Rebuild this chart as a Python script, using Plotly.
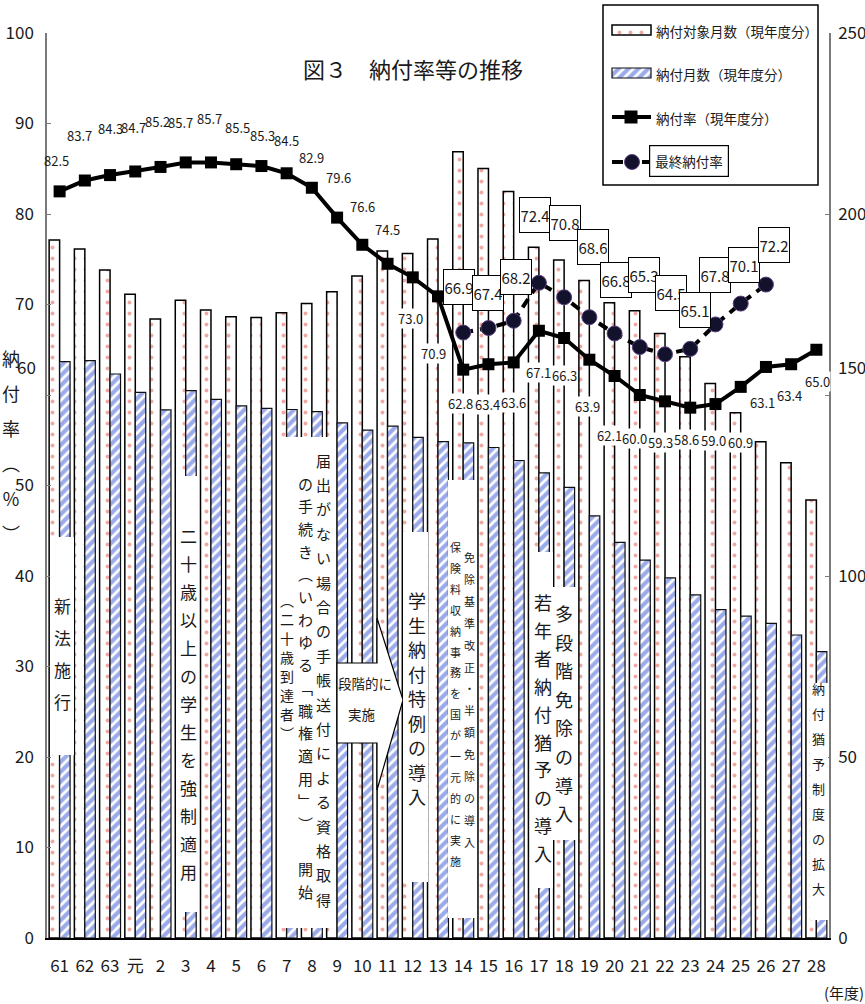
import plotly.graph_objects as go

# ---- data -------------------------------------------------------------
years = ["61", "62", "63", "元", "2", "3", "4", "5", "6", "7", "8", "9", "10",
         "11", "12", "13", "14", "15", "16", "17", "18", "19", "20", "21",
         "22", "23", "24", "25", "26", "27", "28"]

# 納付対象月数（現年度分） and 納付月数（現年度分）, right axis
target_months = [192.8, 190.3, 184.5, 177.8, 171.0, 176.2, 173.5, 171.6, 171.4,
                 172.7, 175.3, 178.5, 182.9, 189.8, 189.1, 193.1, 217.2, 212.6,
                 206.2, 190.8, 187.3, 181.6, 175.5, 173.3, 167.0, 160.6, 153.2,
                 145.1, 137.1, 131.3, 121.0]
paid_months = [159.2, 159.5, 155.8, 150.7, 145.9, 151.2, 148.8, 147.0, 146.3,
               146.0, 145.4, 142.3, 140.3, 141.4, 138.3, 137.1, 136.8, 135.5,
               131.9, 128.5, 124.5, 116.6, 109.3, 104.4, 99.5, 94.8, 90.7,
               88.9, 86.9, 83.7, 79.1]

# 納付率（現年度分） in %
rate_current = [82.5, 83.7, 84.3, 84.7, 85.2, 85.7, 85.7, 85.5, 85.3, 84.5,
                82.9, 79.6, 76.6, 74.5, 73.0, 70.9, 62.8, 63.4, 63.6, 67.1,
                66.3, 63.9, 62.1, 60.0, 59.3, 58.6, 59.0, 60.9, 63.1, 63.4, 65.0]

# 最終納付率 in %
final_years = ["14", "15", "16", "17", "18", "19", "20", "21", "22", "23",
               "24", "25", "26"]
rate_final = [66.9, 67.4, 68.2, 72.4, 70.8, 68.6, 66.8, 65.3, 64.5, 65.1,
              67.8, 70.1, 72.2]

left_ticks = list(range(0, 101, 10))
right_ticks = list(range(0, 251, 50))

# label offsets from their point (pixels, +x right, +y down)
cur_label_offsets = [(-3, -31), (-5, -45), (0, -47), (-2, -44), (-3, -45),
                     (-5, -40), (-1, -44), (1, -37), (1, -31), (0, -33),
                     (0, -30), (1, -40), (0, -38), (0, -34), (-2, 41),
                     (-5, 57), (-3, 34), (-1, 40), (0, 40), (0, 42), (0, 38),
                     (-2, 47), (-5, 59), (-5, 43), (-5, 41), (-4, 32),
                     (-2, 36), (0, 56), (-3, 36), (-2, 31), (1, 32)]
final_label_offsets = [(-4, -46), (0, -35), (2, -44), (-4, -68), (1, -74),
                       (4, -70), (1, -53), (4, -72), (6, -61), (5, -39),
                       (0, -49), (3, -39), (8, -40)]

# ---- geometry / fonts ---------------------------------------------------
W, H = 865, 1004
L, R, T, B = 47, 829, 33, 938          # plot area in pixels
CJK = "Noto Sans CJK JP"
NUM = "Noto Sans CJK JP"
INK = "#1a1a1a"
BLUE = "#3857d4"


def px(x):
    return x / W


def py(y):
    return 1 - y / H


def note(x, y, text, size, family=CJK, xa="center", ya="middle", **kw):
    fig.add_annotation(x=px(x), y=py(y), xref="paper", yref="paper",
                       text=text, showarrow=False, xanchor=xa, yanchor=ya,
                       font=dict(size=size, family=family, color=INK), **kw)


bar_target_style = dict(color="white", line=dict(color="black", width=1.5),
                        pattern=dict(shape=".", fgcolor="#e0554a",
                                     bgcolor="white", size=11, solidity=0.1))
bar_paid_style = dict(color=BLUE, line=dict(color="#111111", width=1.2),
                      pattern=dict(shape="/", fgcolor=BLUE, bgcolor="white",
                                   size=7, solidity=0.6))
cur_line = dict(color="black", width=4)
cur_marker = dict(symbol="square", size=12, color="black")
fin_marker = dict(symbol="circle", size=15, color="#12122c",
                  line=dict(color="#5b3f7e", width=1))

fig = go.Figure()

fig.add_bar(x=years, y=target_months, name="納付対象月数（現年度分）",
            yaxis="y", marker=bar_target_style)
fig.add_bar(x=years, y=paid_months, name="納付月数（現年度分）",
            yaxis="y", marker=bar_paid_style)
fig.add_scatter(x=years, y=rate_current, name="納付率（現年度分）",
                yaxis="y2", mode="lines+markers", line=cur_line,
                marker=cur_marker)
fig.add_scatter(x=final_years, y=rate_final, name="最終納付率",
                yaxis="y2", mode="lines+markers",
                line=dict(color="black", width=4, dash="10px,7px"),
                marker=fin_marker)

# value labels for 納付率（現年度分）: above the line they float free,
# below it they knock out the bar outlines behind them
for i, (v, (dx, dy)) in enumerate(zip(rate_current, cur_label_offsets)):
    fig.add_annotation(x=i, y=v, xref="x", yref="y2", text=f"{v:.1f}",
                       showarrow=False, xshift=dx, yshift=-dy,
                       xanchor="center", yanchor="middle",
                       bgcolor="white" if dy > 0 else "rgba(0,0,0,0)",
                       borderpad=0,
                       font=dict(size=13, family=NUM, color=INK))

# boxed value labels for 最終納付率
first = years.index(final_years[0])
for k, (v, (dx, dy)) in enumerate(zip(rate_final, final_label_offsets)):
    fig.add_annotation(x=first + k, y=v, xref="x", yref="y2",
                       text=f"{v:.1f}", showarrow=False,
                       xshift=dx, yshift=-dy,
                       xanchor="center", yanchor="middle",
                       bgcolor="white", bordercolor="black", borderwidth=1,
                       width=28, height=32, borderpad=1,
                       font=dict(size=15, family=NUM, color=INK))


# ---- event notes written vertically over the bars ----------------------
def white_box(x0, y0, x1, y1):
    fig.add_shape(type="rect", xref="paper", yref="paper",
                  x0=px(x0), x1=px(x1), y0=py(y1), y1=py(y0),
                  fillcolor="white", line=dict(width=0), layer="above")


def vtext(x, y0, text, step, size):
    for k, ch in enumerate(text):
        if ch.strip():
            note(x, y0 + k * step, ch, size)


white_box(50, 537, 74, 755)
vtext(62, 605, "新法施行", 32, 17)

white_box(176, 476, 199, 912)
vtext(188, 535, "二十歳以上の学生を強制適用", 28, 17)

white_box(280, 437, 335, 928)
vtext(323, 460, "届出がない場合の手帳送付による資格取得", 24.4, 15)
vtext(305, 483, "の手続き︵いわゆる﹁職権適用﹂︶　開始", 22.7, 15)
vtext(287, 600, "︵二十歳到達者︶", 19, 14)

# arrow callout
pts = [(337, 663), (377, 663), (377, 618), (403, 700), (377, 790),
       (377, 743), (337, 743)]
path = "M " + " L ".join(f"{px(a):.5f},{py(b):.5f}" for a, b in pts) + " Z"
fig.add_shape(type="path", xref="paper", yref="paper", path=path,
              fillcolor="white", line=dict(color="black", width=1.2),
              layer="above")
note(365, 683, "段階的に", 13.5)
note(362, 714, "実施", 13.5)

white_box(403, 532, 428, 882)
vtext(417, 600, "学生納付特例の導入", 24.5, 18)

white_box(448, 480, 477, 918)
vtext(455, 547, "保険料収納事務を国が一元的に実施", 20.9, 11)
vtext(469.5, 557, "免除基準改正・半額免除の導入", 21.9, 11)

white_box(532, 552, 553, 888)
vtext(543, 602, "若年者納付猶予の導入", 27.9, 18)

white_box(553, 587, 576, 840)
vtext(564, 613, "多段階免除の導入", 28.6, 18)

white_box(810, 683, 828, 920)
vtext(818, 688, "納付猶予制度の拡大", 25, 13)

# ---- titles ------------------------------------------------------------
note(413, 68, "図３　納付率等の推移", 22)
vtext(11, 358, "納付率︵％︶", 35, 18)
note(866, 992, "(年度)", 15, xa="right")

# the 60 % and 150 labels sit a little above their ticks
note(38, 366, "60", 17, family=NUM, xa="right")
note(836, 366, "150", 17, family=NUM, xa="left")
left_text = ["" if v == 60 else str(v) for v in left_ticks]
right_text = ["" if v == 150 else str(v) for v in right_ticks]

# ---- legend (boxed, top right) -------------------------------------------
LG_X0, LG_X1, LG_Y0, LG_Y1 = 603, 818, 5, 185
fig.add_shape(type="rect", xref="paper", yref="paper",
              x0=px(LG_X0), x1=px(LG_X1), y0=py(LG_Y1), y1=py(LG_Y0),
              fillcolor="white", line=dict(color="black", width=1.5),
              layer="below")
key = dict(xaxis="x3", yaxis="y3", showlegend=False, hoverinfo="skip")
fig.add_bar(x=[39], base=[612], y=[30], width=[10], offset=-5,
            orientation="h", marker=bar_target_style, **key)
fig.add_bar(x=[39], base=[612], y=[73], width=[10], offset=-5,
            orientation="h", marker=bar_paid_style, **key)
fig.add_scatter(x=[612, 651], y=[117, 117], mode="lines", line=cur_line,
                **key)
fig.add_scatter(x=[631], y=[117], mode="markers",
                marker=dict(symbol="square", size=13, color="black"), **key)
fig.add_scatter(x=[612, 623, None, 642, 651], y=[162, 162, None, 162, 162],
                mode="lines", line=dict(color="black", width=4), **key)
fig.add_scatter(x=[632], y=[162], mode="markers", marker=fin_marker, **key)

legend_font = 13.5
note(654, 31, "納付対象月数（現年度分）", legend_font, xa="left")
note(654, 74, "納付月数（現年度分）", legend_font, xa="left")
note(654, 118, "納付率（現年度分）", legend_font, xa="left")
note(649, 161, "最終納付率", legend_font, xa="left",
     bordercolor="black", borderwidth=1.2, borderpad=5, bgcolor="white")

axis_font = dict(size=17, family=NUM, color=INK)
hidden = dict(visible=False, showgrid=False, zeroline=False, fixedrange=True)
fig.update_layout(
    width=W, height=H,
    margin=dict(l=0, r=0, t=0, b=0, pad=0, autoexpand=False),
    paper_bgcolor="white", plot_bgcolor="rgba(0,0,0,0)",
    barmode="group", bargap=0.17, bargroupgap=0,
    showlegend=False,
    xaxis=dict(domain=[px(L), px(R)], anchor="y",
               type="category", categoryorder="array", categoryarray=years,
               range=[-0.5, len(years) - 0.5], showline=True,
               linecolor="black", linewidth=1.5, ticks="",
               tickfont=dict(size=17, family=NUM, color=INK),
               ticklabelstandoff=12, showgrid=False, zeroline=False),
    yaxis=dict(domain=[py(B), py(T)], anchor="x",
               range=[0, 250], tickvals=right_ticks, ticktext=right_text,
               side="right", showline=True,
               linecolor="#7a7a7a", linewidth=1.5, ticks="inside",
               ticklen=4, tickcolor="#7a7a7a", showgrid=False,
               zeroline=False, tickfont=axis_font, ticklabelstandoff=4),
    yaxis2=dict(range=[0, 100], tickvals=left_ticks, ticktext=left_text,
                side="left", overlaying="y", anchor="x",
                showline=True, linecolor="#7a7a7a", linewidth=1.5,
                ticks="inside", ticklen=4, tickcolor="#7a7a7a",
                showgrid=False, zeroline=False, tickfont=axis_font,
                ticklabelstandoff=8),
    xaxis3=dict(domain=[px(LG_X0), px(LG_X1)], range=[LG_X0, LG_X1],
                anchor="y3", **hidden),
    yaxis3=dict(domain=[py(LG_Y1), py(LG_Y0)], range=[LG_Y1, LG_Y0],
                anchor="x3", **hidden),
)

fig.write_html("out.html")
